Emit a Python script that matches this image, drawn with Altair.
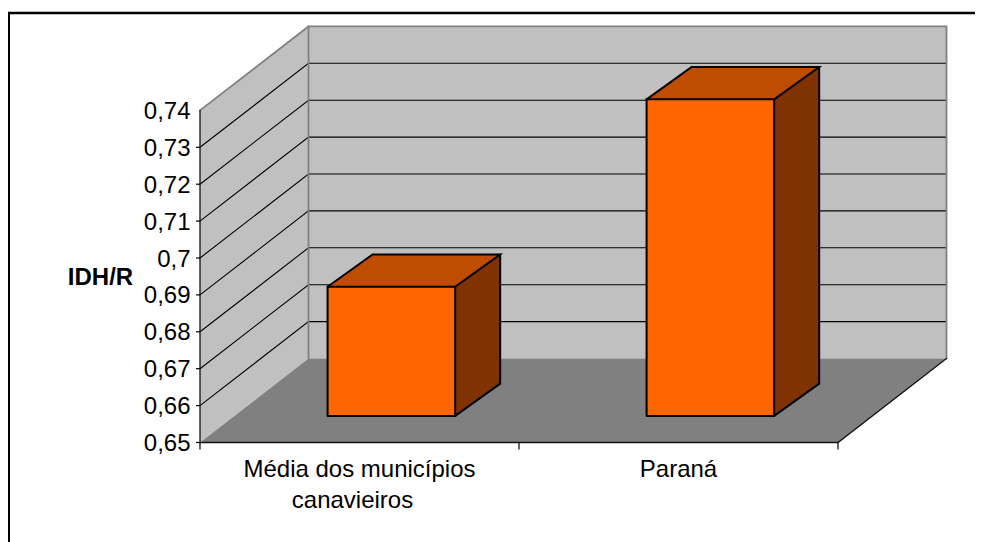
import altair as alt
import pandas as pd

# --- chart values ---
first_lines = ["Média dos municípios", "Paraná"]
second_lines = ["canavieiros"]
bar_values = [0.685, 0.7358]
axis_values = [0.65, 0.66, 0.67, 0.68, 0.69, 0.70, 0.71, 0.72, 0.73, 0.74]
grid_values = [0.66, 0.67, 0.68, 0.69, 0.70, 0.71, 0.72, 0.73]
tick_values = [0.65, 0.66, 0.67, 0.68, 0.69, 0.70, 0.71, 0.72, 0.73]
cat_ticks = [0, 1, 2]

# --- 3-D projection in data units (category units, value units) ---
DX, DY = 0.3401, 0.02276      # depth of the walls
BDX, BDY = 0.141, 0.00875     # depth of a bar
BAR_START, BAR_W = 0.40, 0.40
BAR_BASE = 0.6572
VMIN, VMAX = 0.65, 0.74

W, H = 967, 534
PX_CAT, PX_VAL = 319.0, 3690.0
x_dom = [-192 / PX_CAT, (W - 192) / PX_CAT]
y_dom = [VMIN - (H - 434.5) / PX_VAL, VMIN + 434.5 / PX_VAL]
xs = alt.Scale(domain=x_dom, range=[0, W], nice=False, zero=False)
ys = alt.Scale(domain=y_dom, range=[H, 0], nice=False, zero=False)

y_axis = alt.Axis(
    values=axis_values, offset=-192, domain=False, ticks=False, grid=False,
    labelExpr="replace(format(datum.value, '.2~f'), '.', ',')",
    labelFont="Liberation Sans", labelFontSize=24, labelPadding=10, labelColor="black",
    labelOffset=1,
    title="IDH/R", titleAngle=0, titleFont="Liberation Sans", titleFontSize=24,
    titleFontWeight="bold", titleColor="black", titleAlign="center", titleBaseline="middle",
    titleX=-100, titleY=269,
)
X = alt.X("x:Q", scale=xs, axis=None)
Y = alt.Y("y:Q", scale=ys, axis=y_axis)
Y2 = alt.Y2("y2:Q")


def area(rows, color):
    df = pd.DataFrame(rows, columns=["x", "y", "y2"])
    return alt.Chart(df).mark_area(color=color, opacity=1, line=False, interpolate="linear").encode(x=X, y=Y, y2=Y2)


def outline(points, color="black", width=1.0):
    df = pd.DataFrame(points, columns=["x", "y"])
    df["i"] = range(len(df))
    return alt.Chart(df).mark_line(color=color, strokeWidth=width, interpolate="linear", strokeCap="round", strokeJoin="miter").encode(
        x=X, y=Y, order=alt.Order("i:Q")
    )


layers = []
# walls and floor
layers.append(area([(0, VMIN, VMAX), (DX, VMIN + DY, VMAX + DY)], "#c0c0c0"))
layers.append(area([(DX, VMIN + DY, VMAX + DY), (2 + DX, VMIN + DY, VMAX + DY)], "#c0c0c0"))
layers.append(area([(0, VMIN, VMIN), (DX, VMIN + DY, VMIN), (2, VMIN + DY, VMIN), (2 + DX, VMIN + DY, VMIN + DY)], "#808080"))
# gridlines
for v in grid_values:
    layers.append(outline([(0, v), (DX, v + DY), (2 + DX, v + DY)], "#000000", 1.1))
# grey wall edges
layers.append(outline([(0, VMAX), (DX, VMAX + DY), (2 + DX, VMAX + DY), (2 + DX, VMIN + DY)], "#808080", 1.8))
layers.append(outline([(DX, VMAX + DY), (DX, VMIN + DY)], "#808080", 1.8))
# axis lines
layers.append(outline([(0, VMAX), (0, VMIN), (2, VMIN), (2 + DX, VMIN + DY)], "#111111", 1.3))
# ticks
tick_df = pd.DataFrame({"y": tick_values})
tick_df["x"] = -4 / PX_CAT
tick_df["x2"] = 0.0
layers.append(alt.Chart(tick_df).mark_rule(color="black", strokeWidth=1.2).encode(x=X, x2=alt.X2("x2:Q"), y=Y))
cat_df = pd.DataFrame({"x": cat_ticks})
cat_df["y"] = VMIN
cat_df["y2"] = VMIN - 7 / PX_VAL
layers.append(alt.Chart(cat_df).mark_rule(color="black", strokeWidth=1.2).encode(x=X, y=Y, y2=Y2))

# bars
for i, val in enumerate(bar_values):
    x0 = i + BAR_START
    x1 = x0 + BAR_W
    top = BAR_BASE + (val - VMIN)
    layers.append(area([(x0, BAR_BASE, top), (x1, BAR_BASE, top)], "#ff6600"))
    layers.append(area([(x1, BAR_BASE, top), (x1 + BDX, BAR_BASE + BDY, top + BDY)], "#803300"))
    layers.append(area([(x0, top, top), (x0 + BDX, top + BDY, top), (x1, top + BDY, top), (x1 + BDX, top + BDY, top + BDY)], "#bf4d00"))
    layers.append(outline([(x0, BAR_BASE), (x1, BAR_BASE), (x1, top), (x0, top), (x0, BAR_BASE)], "#000000", 2))
    layers.append(outline([(x0, top), (x0 + BDX, top + BDY), (x1 + BDX, top + BDY), (x1, top)], "#000000", 2))
    layers.append(outline([(x1 + BDX, top + BDY), (x1 + BDX, BAR_BASE + BDY), (x1, BAR_BASE)], "#000000", 2))

# category labels
lab_df = pd.DataFrame({"label": first_lines})
lab_df["x"] = [i + 0.5 for i in range(len(first_lines))]
lab_df["y"] = VMIN
layers.append(
    alt.Chart(lab_df)
    .mark_text(font="Liberation Sans", fontSize=24, color="black", baseline="top", align="center", dy=15)
    .encode(x=X, y=Y, text="label:N")
)
lab2_df = pd.DataFrame({"label": second_lines})
lab2_df["x"] = [i + 0.5 for i in range(len(second_lines))]
lab2_df["y"] = VMIN
layers.append(
    alt.Chart(lab2_df)
    .mark_text(font="Liberation Sans", fontSize=24, color="black", baseline="top", align="center", dy=46, dx=-7)
    .encode(x=X, y=Y, text="label:N")
)

# outer frame
layers.append(alt.Chart(pd.DataFrame({"a": [0]})).mark_rule(color="black", strokeWidth=2.4).encode(
    x=alt.value(0), x2=alt.value(W), y=alt.value(5)))
layers.append(alt.Chart(pd.DataFrame({"a": [0]})).mark_rule(color="black", strokeWidth=3).encode(
    x=alt.value(0.5), y=alt.value(4), y2=alt.value(H)))

chart = (
    alt.layer(*layers)
    .properties(width=W, height=H, padding=0, autosize=alt.AutoSizeParams(type="none"), background="white")
    .configure_view(stroke=None)
)

chart.save("out.html", embed_options={"renderer": "svg", "actions": False})
